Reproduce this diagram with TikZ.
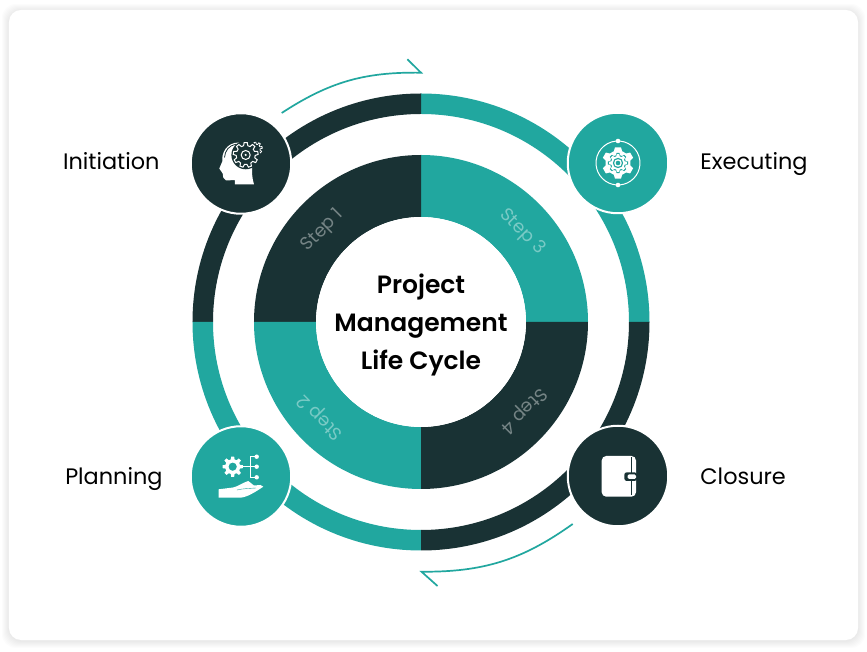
\documentclass[tikz,border=0pt]{standalone}
\usepackage{fontspec}
\setmainfont{Poppins}
\newfontfamily\titlefont{Poppins SemiBold}
\usetikzlibrary{positioning}
\definecolor{darkgreen}{HTML}{193234}
\definecolor{tealgreen}{HTML}{21A79F}

% one closed gear outline: teeth, radius at foot, radius at tip
\newcommand{\gearpath}[3]{({.68*360/#1}:#2) \foreach \t in {1,...,#1}{
  -- ({(\t-.32)*360/#1}:#2) -- ({(\t-.18)*360/#1}:#3)
  -- ({(\t+.18)*360/#1}:#3) -- ({(\t+.32)*360/#1}:#2)} -- cycle}

\begin{document}
\begin{tikzpicture}[x=1pt,y=1pt,
  main node/.style={circle,minimum size=100.5pt,inner sep=0pt,draw=white,line width=2pt},
  hub node/.style={circle,fill=white,minimum size=210pt,inner sep=0pt},
  title node/.style={inner sep=0pt,align=center,font={\titlefont\fontsize{25}{38}\selectfont}},
  side node/.style={inner sep=0pt,text height=16pt,text depth=5pt,font={\fontsize{22.4}{26}\selectfont}},
  step node/.style={inner sep=0pt,text=white,text opacity=.4,font={\fontsize{18}{22}\selectfont}},
  flow line/.style={draw=tealgreen,line width=1.7pt}]

  \useasboundingbox (-421,-330) rectangle (446,322);

  % card with its soft shadow
  \foreach \i in {1,...,7}
    \fill[black,opacity=.012,rounded corners=14pt] (-412-\i,-318-\i-1) rectangle (437+\i,312+\i-1);
  \fill[white,rounded corners=12pt] (-412,-318) rectangle (437,312);

  % both rings
  \foreach \s/\c in {0/tealgreen,90/darkgreen,180/tealgreen,270/darkgreen} {
    \fill[\c] (\s:208) arc[start angle=\s,delta angle=90,radius=208]
      -- (\s+90:228.5) arc[start angle=\s+90,delta angle=-90,radius=228.5] -- cycle;
    \fill[\c] (\s:105) arc[start angle=\s,delta angle=90,radius=105]
      -- (\s+90:167) arc[start angle=\s+90,delta angle=-90,radius=167] -- cycle;
  }

  \node[hub node] (hub) at (0,0) {};
  \node[title node] (title) at (0,-3) {Project\\Management\\Life Cycle};

  \node[main node,fill=darkgreen] (init) at (-180,158.5) {};
  \node[main node,fill=tealgreen] (exec) at (197,159) {};
  \node[main node,fill=tealgreen] (plan) at (-180,-154.5) {};
  \node[main node,fill=darkgreen] (clos) at (197,-154) {};

  \node[side node,yshift=-1pt] (initText) [left=30pt of init] {Initiation};
  \node[side node,yshift=-1pt] (execText) [right=31pt of exec] {Executing};
  \node[side node,yshift=-3pt] (planText) [left=27pt of plan] {Planning};
  \node[side node,yshift=-3pt] (closText) [right=31pt of clos] {Closure};

  \node[step node,rotate=45] (step1) at (-98,91) {Step 1};
  \node[step node,rotate=135] (step2) at (-100,-95) {Step 2};
  \node[step node,rotate=-45] (step3) at (101,90) {Step 3};
  \node[step node,rotate=225] (step4) at (102,-88) {Step 4};

  \coordinate (topStart) at (-139.3,209);
  \coordinate (topEnd) at (0,249.3);
  \coordinate (topBarb) at (-13.6,262.7);
  \coordinate (botStart) at (151.7,-202);
  \coordinate (botEnd) at (0.5,-249.7);
  \coordinate (botBarb) at (16.5,-264);
  \draw[flow line] (topStart) to[bend left=17] (topEnd) -- (topBarb);
  \draw[flow line] (botStart) to[bend left=18] (botEnd) -- (botBarb);

  % head with gears
  \begin{scope}[shift={(init.center)}]
    \fill[white] (13,-21) -- (-6,-21) -- (-6,-16.5) -- (-15,-17) .. controls (-18,-16) and (-18,-13) .. (-18.3,-10)
      -- (-21.7,-5) -- (-18.7,2) .. controls (-19.5,10) and (-15,21) .. (-2,21) -- (10,10)
      .. controls (13,0) and (9,-8) .. (13,-21) -- cycle;
    \draw[darkgreen,line width=.8pt] (-16.5,6) .. controls (-16,13) and (-12,18) .. (-5,19.3);
    \draw[white,fill=darkgreen,line width=.8pt,shift={(15,15)},rotate=10] \gearpath{8}{4.2}{6.3};
    \fill[darkgreen,shift={(4.7,8.5)}] circle (14.3);
    \draw[white,fill=darkgreen,line width=1pt,shift={(4.7,8.5)},rotate=10] \gearpath{9}{9.5}{12.5};
    \draw[white,line width=1pt] (4.7,8.5) circle (4.5);
    \fill[white] (4.7,8.5) circle (1.2);
  \end{scope}

  % gear inside a ring
  \begin{scope}[shift={(exec.center)}]
    \draw[white,line width=1pt] (95:22) arc[start angle=95,end angle=265,radius=22];
    \draw[white,line width=1pt] (85:22) arc[start angle=85,end angle=-85,radius=22];
    \fill[white] (0,22) circle (2.3) (0,-22) circle (2.3);
    \fill[white,rotate=90] \gearpath{6}{12.5}{16};
    \fill[tealgreen] \gearpath{8}{8}{10.3};
    \fill[white] \gearpath{8}{6.8}{9};
    \fill[tealgreen] circle (5.2);
    \fill[white] circle (3.8);
    \fill[tealgreen] circle (2.3);
  \end{scope}

  % gear with branches above a hand
  \begin{scope}[shift={(plan.center)}]
    \fill[white,even odd rule,shift={(-8.3,9.8)}] \gearpath{8}{7.5}{10.3} (0,0) circle (4.2);
    \draw[white,line width=.8pt] (2.3,9.8) -- (15.7,9.8) (15.7,19.8) -- (9,19.8) -- (9,-.8) -- (15.7,-.8);
    \fill[white] (15.7,19.8) circle (2.2) (15.7,9.8) circle (2.2) (15.7,-.8) circle (2.2);
    \fill[white] (-22.3,-12.8) -- (-22.3,-21.2) -- (-1,-21.2) .. controls (6,-21) and (15,-15) .. (22.3,-10.2)
      -- (19.5,-8.5) -- (13,-9) -- (7.3,-4.5) .. controls (2,-6) and (-3,-10) .. (-8,-11) -- (-14.3,-11.8) -- cycle;
    \draw[tealgreen,line width=.4pt] (-4,-13.5) .. controls (2,-12) and (8,-12) .. (15,-11.5);
  \end{scope}

  % wallet
  \begin{scope}[shift={(clos.center)}]
    \fill[white,rounded corners=4.5pt] (-16.3,20) rectangle (18,-20.7);
    \draw[darkgreen,line width=.9pt] (13.2,19) -- (13.2,-19.5);
    \fill[darkgreen,rounded corners=2.5pt] (6.3,3.7) rectangle (19,-5);
    \fill[white,rounded corners=1.5pt] (9.5,1.7) rectangle (18,-3);
  \end{scope}

\end{tikzpicture}
\end{document}
